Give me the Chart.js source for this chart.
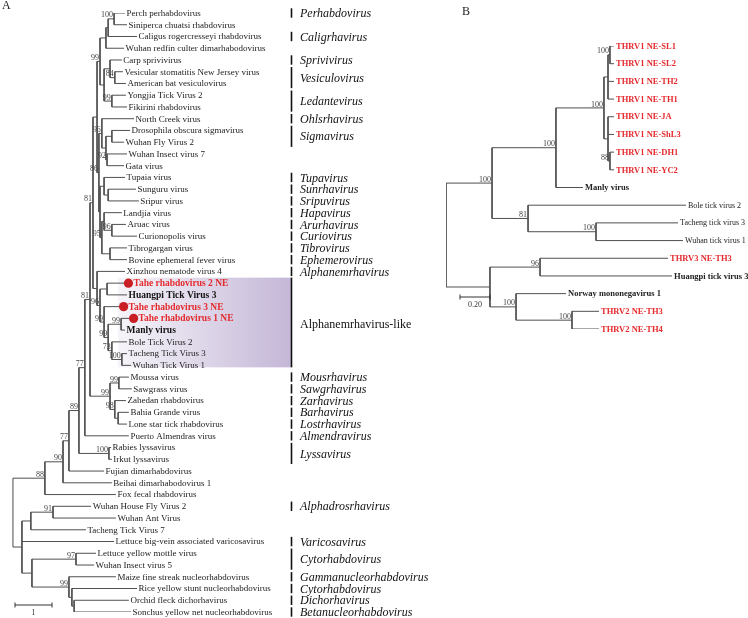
<!DOCTYPE html>
<html>
<head>
<meta charset="utf-8">
<script src="https://cdn.jsdelivr.net/npm/chart.js@4.4.0/dist/chart.umd.min.js"></script>
<style>
  html, body { margin: 0; padding: 0; background: #fff; }
  #wrapA { position: absolute; left: 0; top: 0; width: 440px; height: 618px; }
  #wrapB { position: absolute; left: 440px; top: 0; width: 308px; height: 618px; }
</style>
</head>
<body>
<div id="wrapA"><canvas id="treeA" width="440" height="618"></canvas></div>
<div id="wrapB"><canvas id="treeB" width="308" height="618"></canvas></div>
<script>
// ---- Panel A: tips (top to bottom) and their depth (substitutions/site) ----
const leavesA = [
  'Perch perhabdovirus', 'Siniperca chuatsi rhabdovirus', 'Caligus rogercresseyi rhabdovirus',
  'Wuhan redfin culter dimarhabodovirus', 'Carp sprivivirus', 'Vesicular stomatitis New Jersey virus',
  'American bat vesiculovirus', 'Yongjia Tick Virus 2', 'Fikirini rhabdovirus', 'North Creek virus',
  'Drosophila obscura sigmavirus', 'Wuhan Fly Virus 2', 'Wuhan Insect virus 7', 'Gata virus',
  'Tupaia virus', 'Sunguru virus', 'Sripur virus', 'Landjia virus', 'Aruac virus', 'Curionopolis virus',
  'Tibrogargan virus', 'Bovine ephemeral fever virus', 'Xinzhou nematode virus 4', 'Tahe rhabdovirus 2 NE',
  'Huangpi Tick Virus 3', 'Tahe rhabdovirus 3 NE', 'Tahe rhabdovirus 1 NE', 'Manly virus',
  'Bole Tick Virus 2', 'Tacheng Tick Virus 3', 'Wuhan Tick Virus 1', 'Moussa virus', 'Sawgrass virus',
  'Zahedan rhabdovirus', 'Bahia Grande virus', 'Lone star tick rhabdovirus', 'Puerto Almendras virus',
  'Rabies lyssavirus', 'Irkut lyssavirus', 'Fujian dimarhabdovirus', 'Beihai dimarhabodovirus 1',
  'Fox fecal rhabdovirus', 'Wuhan House Fly Virus 2', 'Wuhan Ant Virus', 'Tacheng Tick Virus 7',
  'Lettuce big-vein associated varicosavirus', 'Lettuce yellow mottle virus', 'Wuhan Insect virus 5',
  'Maize fine streak nucleorhabdovirus', 'Rice yellow stunt nucleorhabdovirus',
  'Orchid fleck dichorhavirus', 'Sonchus yellow net nucleorhabdovirus'
];
const tipDepthA = [
  3.035, 3.09, 3.36, 3.01, 2.95, 2.98, 3.06, 3.06, 3.09, 3.28, 3.17, 3.01, 3.09, 3.01,
  3.035, 3.33, 3.41, 2.95, 3.06, 3.36, 3.09, 3.09, 3.035, 3.06, 3.09, 2.93, 3.2, 3.035,
  3.09, 3.09, 3.2, 3.14, 3.22, 3.06, 3.14, 3.09, 3.14, 2.66, 2.68, 2.47, 2.68, 2.79,
  2.12, 2.79, 1.98, 2.74, 2.25, 2.2, 2.79, 3.36, 3.14, 3.2
];
const newVirusA = [23, 25, 26];   // Tahe rhabdoviruses (red, dot)
const relatedA = [24, 27];        // bold black

// internal nodes: id, children (tip index or node id), depth, bootstrap
const nodeIdsA = ['P1', 'P2', 'P3', 'V1', 'V2', 'L1', 'V3', 'Ta', 'S1', 'S2', 'S3', 'S4', 'U1', 'U2',
  'H1', 'H2', 'H3', 'H4', 'Tc', 'Tb', 'Top', 'TH', 'TM', 'TW', 'B', 'BM', 'T3', 'N96', 'XL', 'N81a',
  'M1', 'Z1', 'Z2', 'M2', 'N81b', 'N77a', 'Lys', 'N89', 'N77b', 'N90', 'N88', 'A1', 'A2', 'C1',
  'Nu1', 'Nu2', 'Nu3', 'C2', 'Bot', 'Root'];
const nodeKidsA = [[0, 1], ['P1', 2], ['P2', 3], [5, 6], [4, 'V1'], [7, 8], ['V2', 'L1'], ['P3', 'V3'],
  [10, 11], [12, 13], ['S1', 'S2'], [9, 'S3'], [15, 16], [14, 'U1'], [18, 19], [17, 'H1'], [20, 21],
  ['H2', 'H3'], ['U2', 'H4'], ['S4', 'Tc'], ['Ta', 'Tb'], [23, 24], [26, 27], [29, 30], [28, 'TW'],
  ['TM', 'B'], [25, 'BM'], ['TH', 'T3'], [22, 'N96'], ['Top', 'XL'], [31, 32], [34, 35], [33, 'Z1'],
  ['M1', 'Z2'], ['N81a', 'M2'], ['N81b', 36], [37, 38], ['N77a', 'Lys'], ['N89', 39], ['N77b', 40],
  ['N90', 41], [42, 43], ['A1', 44], [46, 47], [50, 51], [49, 'Nu1'], [48, 'Nu2'], ['C1', 'Nu3'],
  ['A2', 45, 'C2'], ['N88', 'Bot']];
const nodeDepthA = [2.74, 2.58, 2.52, 2.76, 2.63, 2.68, 2.47, 2.36, 2.68, 2.55, 2.52, 2.41, 2.58, 2.47,
  2.68, 2.47, 2.63, 2.41, 2.36, 2.33, 2.28, 2.55, 2.93, 2.95, 2.68, 2.58, 2.47, 2.36, 2.28, 2.17,
  2.87, 2.85, 2.76, 2.63, 2.09, 1.95, 2.6, 1.79, 1.52, 1.36, 0.87, 1.09, 0.49, 1.71,
  1.66, 1.6, 1.52, 0.52, 0.25, 0];
const nodeBootA = [100, null, null, 84, null, 99, null, 99, null, 92, null, 96, null, null,
  96, null, null, 95, null, 86, null, null, 99, 100, 73, 99, 99, 96, null, 81,
  99, null, 98, 99, 81, 77, 100, 89, 77, 90, 88, 91, null, 97,
  null, null, 99, null, null, null];

// genus labels on the right of panel A (first tip, last tip)
const cladeNamesA = ['Perhabdovirus', 'Caligrhavirus', 'Sprivivirus', 'Vesiculovirus', 'Ledantevirus',
  'Ohlsrhavirus', 'Sigmavirus', 'Tupavirus', 'Sunrhavirus', 'Sripuvirus', 'Hapavirus', 'Arurhavirus',
  'Curiovirus', 'Tibrovirus', 'Ephemerovirus', 'Alphanemrhavirus', 'Alphanemrhavirus-like',
  'Mousrhavirus', 'Sawgrhavirus', 'Zarhavirus', 'Barhavirus', 'Lostrhavirus', 'Almendravirus',
  'Lyssavirus', 'Alphadrosrhavirus', 'Varicosavirus', 'Cytorhabdovirus', 'Gammanucleorhabdovirus',
  'Cytorhabdovirus', 'Dichorhavirus', 'Betanucleorhabdovirus'];
const cladeFirstA = [0, 2, 4, 5, 7, 9, 10, 14, 15, 16, 17, 18, 19, 20, 21, 22, 23, 31, 32, 33, 34, 35, 36,
  37, 42, 45, 46, 48, 49, 50, 51];
const cladeLastA = [0, 2, 4, 6, 8, 9, 11, 14, 15, 16, 17, 18, 19, 20, 21, 22, 30, 31, 32, 33, 34, 35, 36,
  38, 42, 45, 47, 48, 49, 50, 51];
const highlightCladeA = 'Alphanemrhavirus-like';
const scaleBarA = 1;

// ---- Panel B ----
const leavesB = ['THRV1 NE-SL1', 'THRV1 NE-SL2', 'THRV1 NE-TH2', 'THRV1 NE-TH1', 'THRV1 NE-JA',
  'THRV1 NE-ShL3', 'THRV1 NE-DH1', 'THRV1 NE-YC2', 'Manly virus', 'Bole tick virus 2',
  'Tacheng tick virus 3', 'Wuhan tick virus 1', 'THRV3 NE-TH3', 'Huangpi tick virus 3',
  'Norway mononegavirus 1', 'THRV2 NE-TH3', 'THRV2 NE-TH4'];
const tipDepthB = [1.12, 1.12, 1.12, 1.12, 1.12, 1.12, 1.12, 1.12, 0.913, 1.6, 1.547, 1.58,
  1.48, 1.507, 0.8, 1.02, 1.02];
const newVirusB = [0, 1, 2, 3, 4, 5, 6, 7, 12, 15, 16];
const relatedB = [8, 13, 14];
const nodeIdsB = ['b1', 'bTop', 'b2', 'bBot', 'bTH1', 'bM', 'bT', 'bB', 'bU', 'bH', 'bN2', 'bN', 'bL', 'rootB'];
const nodeKidsB = [[0, 1], ['b1', 2, 3], [6, 7], [4, 5, 'b2'], ['bTop', 'bBot'], ['bTH1', 8], [10, 11],
  [9, 'bT'], ['bM', 'bB'], [12, 13], [15, 16], [14, 'bN2'], ['bH', 'bN'], ['bU', 'bL']];
const nodeDepthB = [1.093, 1.08, 1.093, 1.08, 1.053, 0.733, 1.0, 0.547, 0.307, 0.627, 0.84, 0.467, 0.293, 0];
const nodeBootB = [100, null, 88, null, 100, 100, 100, 81, 100, 96, 100, 100, null, null];
const scaleBarB = 0.20;

const SERIF = '"Liberation Serif", "Times New Roman", serif';
const RED = '#e52a2d';
const LINE = '#505050';

function layoutTree(ids, kids, depth, tips) {
  const pos = {};
  tips.forEach((d, i) => { pos[i] = { x: d, y: i }; });
  const resolve = id => {
    if (pos[id]) return pos[id];
    const k = ids.indexOf(id);
    const ch = kids[k].map(resolve);
    pos[id] = { x: depth[k], y: (ch[0].y + ch[ch.length - 1].y) / 2, kids: ch };
    return pos[id];
  };
  ids.forEach(resolve);
  return pos;
}

function branchDatasets(ids, pos) {
  const sets = [];
  ids.forEach(id => {
    const n = pos[id];
    const a = n.kids[0], b = n.kids[n.kids.length - 1];
    sets.push({ data: [{ x: a.x, y: a.y }, { x: n.x, y: a.y }, { x: n.x, y: b.y }, { x: b.x, y: b.y }] });
    n.kids.slice(1, -1).forEach(c => sets.push({ data: [{ x: n.x, y: c.y }, { x: c.x, y: c.y }] }));
  });
  return sets.map(s => ({ ...s, showLine: true, borderColor: LINE, borderWidth: 1, pointRadius: 0, fill: false, tension: 0 }));
}

function drawBootstraps(ctx, xs, ys, ids, boots, pos) {
  ctx.font = '8px ' + SERIF;
  ctx.fillStyle = '#444';
  ctx.textAlign = 'right';
  ctx.textBaseline = 'bottom';
  ids.forEach((id, k) => {
    if (boots[k] == null) return;
    const n = pos[id];
    ctx.fillText(String(boots[k]), xs.getPixelForValue(n.x) - 1, ys.getPixelForValue(n.y) + 0.5);
  });
}

function scaleBar(ctx, xs, x0, y0, len, label) {
  const w = xs.getPixelForValue(len) - xs.getPixelForValue(0);
  ctx.strokeStyle = '#333';
  ctx.lineWidth = 1;
  ctx.beginPath();
  ctx.moveTo(x0, y0); ctx.lineTo(x0 + w, y0);
  ctx.moveTo(x0, y0 - 2.5); ctx.lineTo(x0, y0 + 2.5);
  ctx.moveTo(x0 + w, y0 - 2.5); ctx.lineTo(x0 + w, y0 + 2.5);
  ctx.stroke();
  ctx.font = '8px ' + SERIF;
  ctx.fillStyle = '#333';
  ctx.textAlign = 'center';
  ctx.textBaseline = 'top';
  ctx.fillText(label, x0 + w / 2, y0 + 4);
}

const baseOptions = (pad, xMax, yMax) => ({
  responsive: false,
  animation: false,
  maintainAspectRatio: false,
  layout: { padding: pad },
  scales: {
    x: { type: 'linear', min: 0, max: xMax, display: false },
    y: { type: 'linear', min: 0, max: yMax, reverse: true, display: false }
  },
  plugins: { legend: { display: false }, tooltip: { enabled: false } }
});

// ---------------- Panel A ----------------
const posA = layoutTree(nodeIdsA, nodeKidsA, nodeDepthA, tipDepthA);

const panelAPlugin = {
  id: 'panelA',
  beforeDatasetsDraw(chart) {
    const { ctx, scales: { y: ys } } = chart;
    const k = cladeNamesA.indexOf(highlightCladeA);
    const top = ys.getPixelForValue(cladeFirstA[k]) - 5.5;
    const bot = ys.getPixelForValue(cladeLastA[k]) + 2;
    const g = ctx.createLinearGradient(118, 0, 291, 0);
    g.addColorStop(0, '#f6f4f9');
    g.addColorStop(1, '#c4b7d7');
    ctx.save();
    ctx.fillStyle = g;
    ctx.fillRect(118, top, 173, bot - top);
    ctx.restore();
  },
  afterDatasetsDraw(chart) {
    const { ctx, scales: { x: xs, y: ys } } = chart;
    ctx.save();
    // tip labels
    leavesA.forEach((name, i) => {
      const px = xs.getPixelForValue(tipDepthA[i]);
      const py = ys.getPixelForValue(i);
      ctx.textAlign = 'left';
      ctx.textBaseline = 'middle';
      if (newVirusA.includes(i)) {
        ctx.fillStyle = '#c81e24';
        ctx.beginPath();
        ctx.arc(px + 2.5, py, 4.6, 0, Math.PI * 2);
        ctx.fill();
        ctx.font = 'bold 9.5px ' + SERIF;
        ctx.fillStyle = RED;
        ctx.fillText(name, px + 7.5, py + 0.5);
      } else if (relatedA.includes(i)) {
        ctx.font = 'bold 9.5px ' + SERIF;
        ctx.fillStyle = '#111';
        ctx.fillText(name, px + 1.5, py + 0.5);
      } else {
        ctx.font = '9px ' + SERIF;
        ctx.fillStyle = '#222';
        ctx.fillText(name, px + 1.5, py + 0.5);
      }
    });
    drawBootstraps(ctx, xs, ys, nodeIdsA, nodeBootA, posA);
    // genus bars and names
    const step = ys.getPixelForValue(1) - ys.getPixelForValue(0);
    cladeNamesA.forEach((name, k) => {
      const y0 = ys.getPixelForValue(cladeFirstA[k]);
      const y1 = ys.getPixelForValue(cladeLastA[k]);
      const wide = name === highlightCladeA;
      ctx.strokeStyle = '#111';
      ctx.lineWidth = 1.6;
      ctx.beginPath();
      ctx.moveTo(291.5, wide ? y0 - 5.5 : y0 - step * 0.4);
      ctx.lineTo(291.5, wide ? y1 + 2 : y1 + step * 0.4);
      ctx.stroke();
      ctx.font = (wide ? '' : 'italic ') + '12px ' + SERIF;
      ctx.fillStyle = '#111';
      ctx.textAlign = 'left';
      ctx.textBaseline = 'middle';
      ctx.fillText(name, 300, (y0 + y1) / 2 + 1);
    });
    scaleBar(ctx, xs, 15, 605, scaleBarA, '1');
    ctx.font = '12px ' + SERIF;
    ctx.fillStyle = '#222';
    ctx.textAlign = 'left';
    ctx.textBaseline = 'top';
    ctx.fillText('A', 2, 0);
    ctx.restore();
  }
};

new Chart(document.getElementById('treeA'), {
  type: 'scatter',
  data: { datasets: branchDatasets(nodeIdsA, posA) },
  options: baseOptions({ left: 12.7, right: 0, top: 13, bottom: 6 }, 427.3 / 37, leavesA.length - 1),
  plugins: [panelAPlugin]
});

// ---------------- Panel B ----------------
const posB = layoutTree(nodeIdsB, nodeKidsB, nodeDepthB, tipDepthB);

const panelBPlugin = {
  id: 'panelB',
  afterDatasetsDraw(chart) {
    const { ctx, scales: { x: xs, y: ys } } = chart;
    ctx.save();
    leavesB.forEach((name, i) => {
      const px = xs.getPixelForValue(tipDepthB[i]);
      const py = ys.getPixelForValue(i);
      const isNew = newVirusB.includes(i);
      const isBold = isNew || relatedB.includes(i);
      ctx.font = (isBold ? 'bold 8.5px ' : '8px ') + SERIF;
      ctx.fillStyle = isNew ? RED : '#222';
      ctx.textAlign = 'left';
      ctx.textBaseline = 'middle';
      ctx.fillText(name, px + 2, py + 0.5);
    });
    drawBootstraps(ctx, xs, ys, nodeIdsB, nodeBootB, posB);
    scaleBar(ctx, xs, 20, 297, scaleBarB, '0.20');
    ctx.font = '12px ' + SERIF;
    ctx.fillStyle = '#222';
    ctx.textAlign = 'left';
    ctx.textBaseline = 'top';
    ctx.fillText('B', 22, 6);
    ctx.restore();
  }
};

new Chart(document.getElementById('treeB'), {
  type: 'scatter',
  data: { datasets: branchDatasets(nodeIdsB, posB) },
  options: baseOptions({ left: 6, right: 0, top: 46, bottom: 618 - 329 }, 302 / 150, leavesB.length - 1),
  plugins: [panelBPlugin]
});
</script>
</body>
</html>
